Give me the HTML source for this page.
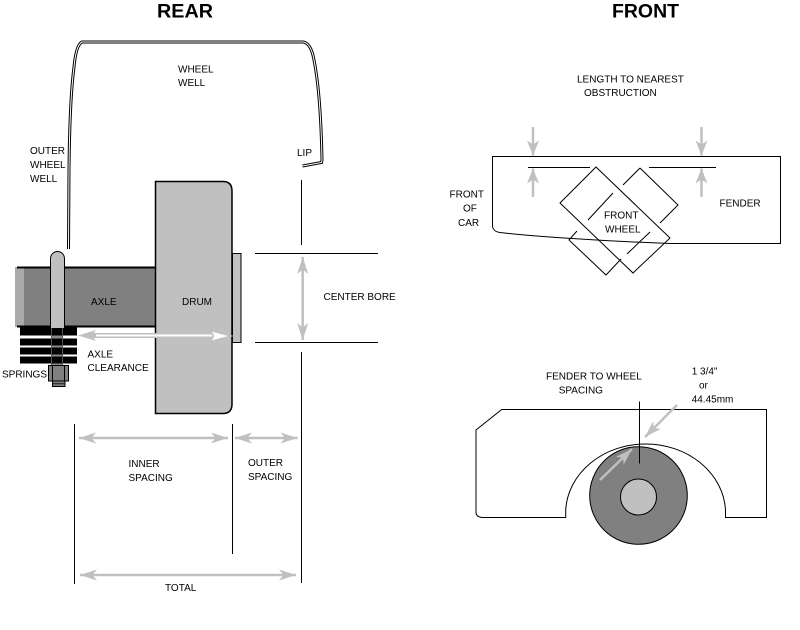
<!DOCTYPE html>
<html>
<head>
<meta charset="utf-8">
<style>
html,body{margin:0;padding:0;background:#fff;}
svg{display:block;}
text{font-family:"Liberation Sans",Arial,sans-serif;font-size:10px;fill:#000;}
.h{font-weight:bold;font-size:19px;}
</style>
</head>
<body>
<svg width="800" height="630" viewBox="0 0 800 630" xmlns="http://www.w3.org/2000/svg">
<defs>
<marker id="ah" viewBox="-18 -7 19 14" refX="0" refY="0" markerWidth="19" markerHeight="14" orient="auto-start-reverse" markerUnits="userSpaceOnUse">
<path d="M0,0 L-17,-5.5 L-12.5,0 L-17,5.5 Z" fill="#c0c0c0"/>
</marker>
<marker id="ah2" viewBox="-16 -7 17 14" refX="0" refY="0" markerWidth="17" markerHeight="14" orient="auto-start-reverse" markerUnits="userSpaceOnUse">
<path d="M0,0 L-15,-6 L-11,0 L-15,6 Z" fill="#c0c0c0"/>
</marker>
</defs>

<!-- Headings -->
<text class="h" x="157" y="17.5" textLength="56" lengthAdjust="spacingAndGlyphs">REAR</text>
<text class="h" x="612" y="17.5" textLength="67" lengthAdjust="spacingAndGlyphs">FRONT</text>

<!-- ============ REAR ============ -->
<path d="M68.5,249 L69,170 C69.5,120 71,90 74,67 Q76,45 82,42 L303,42 Q311,43 314,60 C318,80 321,110 322,160 L321.5,162.5 L302.5,166" fill="none" stroke="#000" stroke-width="3"/>
<path d="M68.5,249 L69,170 C69.5,120 71,90 74,67 Q76,45 82,42 L303,42 Q311,43 314,60 C318,80 321,110 322,160 L321.5,162.5 L302.5,166" fill="none" stroke="#fff" stroke-width="1"/>

<text x="178" y="72.5">WHEEL</text>
<text x="178" y="86">WELL</text>
<text x="30" y="154">OUTER</text>
<text x="30" y="168">WHEEL</text>
<text x="30" y="182">WELL</text>
<text x="297" y="156">LIP</text>

<!-- axle -->
<rect x="15" y="267" width="140" height="60" fill="#808080"/>
<rect x="15" y="267" width="9" height="60" fill="#aaaaaa"/>
<line x1="17" y1="267.5" x2="155" y2="267.5" stroke="#000" stroke-width="2"/>
<line x1="17" y1="326.5" x2="155" y2="326.5" stroke="#000" stroke-width="2"/>

<!-- drum -->
<path d="M155.5,181.5 H223 Q232,181.5 232,191 V404 Q232,413.5 223,413.5 H155.5 Z" fill="#c0c0c0" stroke="#000" stroke-width="1.5"/>
<rect x="232.5" y="253.5" width="8.5" height="89" fill="#c0c0c0" stroke="#000" stroke-width="1"/>

<!-- bolt shaft in spring area -->
<rect x="51" y="327" width="12" height="39" fill="#8a8a8a"/>
<!-- springs -->
<rect x="20" y="327.5" width="57" height="8" fill="#000"/>
<rect x="20" y="338.5" width="57" height="7" fill="#000"/>
<rect x="20" y="347.5" width="57" height="7" fill="#000"/>
<rect x="20" y="356.5" width="57" height="7" fill="#000"/>
<line x1="51.5" y1="327" x2="51.5" y2="365" stroke="#555" stroke-width="1"/>
<line x1="62.5" y1="327" x2="62.5" y2="365" stroke="#555" stroke-width="1"/>
<!-- U-bolt -->
<path d="M50.5,328 V258.5 A7,7 0 0 1 64.5,258.5 V328" fill="#c0c0c0" stroke="#000" stroke-width="1"/>
<!-- nut -->
<rect x="48.5" y="365.5" width="20" height="15.5" fill="#808080" stroke="#000" stroke-width="1"/>
<line x1="52.5" y1="366" x2="52.5" y2="381" stroke="#000" stroke-width="1"/>
<line x1="64.5" y1="366" x2="64.5" y2="381" stroke="#000" stroke-width="1"/>
<rect x="52.5" y="381" width="12.5" height="5.5" fill="#808080" stroke="#000" stroke-width="1"/>
<line x1="53" y1="383.8" x2="65" y2="383.8" stroke="#000" stroke-width="0.8"/>

<text x="91" y="305">AXLE</text>
<text x="182" y="305">DRUM</text>
<text x="87.5" y="357.5">AXLE</text>
<text x="87.5" y="371">CLEARANCE</text>
<text x="2" y="377.5">SPRINGS</text>

<!-- axle clearance arrow -->
<line x1="86" y1="335.5" x2="212" y2="335.5" stroke="#c0c0c0" stroke-width="5"/>
<line x1="96" y1="335.5" x2="214" y2="335.5" stroke="#fff" stroke-width="2"/>
<path d="M78,335.5 L96,330 L92,335.5 L96,341 Z" fill="#c0c0c0"/>
<path d="M210.5,330.5 L231,336 L210.5,341.5 L213.5,336 Z" fill="#fff" stroke="#c0c0c0" stroke-width="1.5"/>

<!-- dimension lines -->
<line x1="301.5" y1="180" x2="301.5" y2="245" stroke="#000" stroke-width="1"/>
<line x1="301.5" y1="352" x2="301.5" y2="583" stroke="#000" stroke-width="1"/>
<line x1="255" y1="253.5" x2="378" y2="253.5" stroke="#000" stroke-width="1"/>
<line x1="255" y1="342.5" x2="378" y2="342.5" stroke="#000" stroke-width="1"/>
<line x1="302.7" y1="257" x2="302.7" y2="340" stroke="#c0c0c0" stroke-width="2.5" marker-start="url(#ah)" marker-end="url(#ah)"/>
<text x="323.5" y="300">CENTER BORE</text>

<line x1="74.5" y1="424" x2="74.5" y2="584" stroke="#000" stroke-width="1"/>
<line x1="232.5" y1="424" x2="232.5" y2="554" stroke="#000" stroke-width="1"/>

<line x1="79" y1="438" x2="228" y2="438" stroke="#c0c0c0" stroke-width="2.5" marker-start="url(#ah)" marker-end="url(#ah)"/>
<line x1="235" y1="438" x2="297.5" y2="438" stroke="#c0c0c0" stroke-width="2.5" marker-start="url(#ah)" marker-end="url(#ah)"/>
<line x1="80" y1="575" x2="296" y2="575" stroke="#c0c0c0" stroke-width="2.5" marker-start="url(#ah)" marker-end="url(#ah)"/>

<text x="128.5" y="467">INNER</text>
<text x="128.5" y="481">SPACING</text>
<text x="248" y="466">OUTER</text>
<text x="248" y="480">SPACING</text>
<text x="165" y="591">TOTAL</text>

<!-- ============ FRONT (top) ============ -->
<text x="577" y="82.7">LENGTH TO NEAREST</text>
<text x="584" y="96">OBSTRUCTION</text>

<path d="M780.5,243.5 L780.5,156.5 L492.5,156.5 L492.5,226 Q493,231.5 500,232.5 C530,236 600,241 670,243.5 Z" fill="none" stroke="#000" stroke-width="1"/>

<line x1="528" y1="167.5" x2="590" y2="167.5" stroke="#000" stroke-width="1"/>
<line x1="649" y1="167.5" x2="716" y2="167.5" stroke="#000" stroke-width="1"/>

<!-- wheel diamonds -->
<polygon points="596,167 670,238 633,273 560,203" fill="none" stroke="#000" stroke-width="1"/>
<path d="M640,168 L678,205 L660,223 M650,232 L627,254 M621,259 L606,275 L569,240 L577,231 M588,220 L613,193 M623,185 L640,168" fill="none" stroke="#000" stroke-width="1"/>

<!-- arrows -->
<line x1="533" y1="127" x2="533" y2="155.5" stroke="#c0c0c0" stroke-width="2.5" marker-end="url(#ah2)"/>
<line x1="533" y1="197" x2="533" y2="168.5" stroke="#c0c0c0" stroke-width="2.5" marker-end="url(#ah2)"/>
<line x1="701.5" y1="127" x2="701.5" y2="155.5" stroke="#c0c0c0" stroke-width="2.5" marker-end="url(#ah2)"/>
<line x1="701.5" y1="197" x2="701.5" y2="168.5" stroke="#c0c0c0" stroke-width="2.5" marker-end="url(#ah2)"/>

<text x="449.5" y="197.5">FRONT</text>
<text x="463" y="211.5">OF</text>
<text x="458" y="226">CAR</text>
<text x="719.5" y="206.7">FENDER</text>
<text x="604" y="218.3">FRONT</text>
<text x="605" y="232.3">WHEEL</text>

<!-- ============ FRONT (bottom) ============ -->
<text x="546" y="379.3">FENDER TO WHEEL</text>
<text x="558.7" y="393.3">SPACING</text>
<text x="691.7" y="374.3">1 3/4"</text>
<text x="699" y="388.3">or</text>
<text x="691.7" y="402.3">44.45mm</text>

<path d="M501.7,409.5 L766.5,409.5 L766.5,517.5 L725.5,517.5 L725.5,510 A80,69.5 0 0 0 565.7,510 L565.7,517.5 L482,517.5 Q476,517 476,512 L476,430 Z" fill="none" stroke="#000" stroke-width="1"/>

<circle cx="638.5" cy="495.5" r="48.8" fill="#808080" stroke="#000" stroke-width="1"/>
<circle cx="638.5" cy="497" r="18" fill="#c0c0c0" stroke="#000" stroke-width="1"/>

<line x1="639.5" y1="401.5" x2="639.5" y2="463.5" stroke="#000" stroke-width="1"/>

<line x1="677" y1="405" x2="645" y2="437" stroke="#c0c0c0" stroke-width="2.5" marker-end="url(#ah)"/>
<line x1="600" y1="480" x2="632" y2="449" stroke="#c0c0c0" stroke-width="2.5" marker-end="url(#ah)"/>
</svg>
</body>
</html>
